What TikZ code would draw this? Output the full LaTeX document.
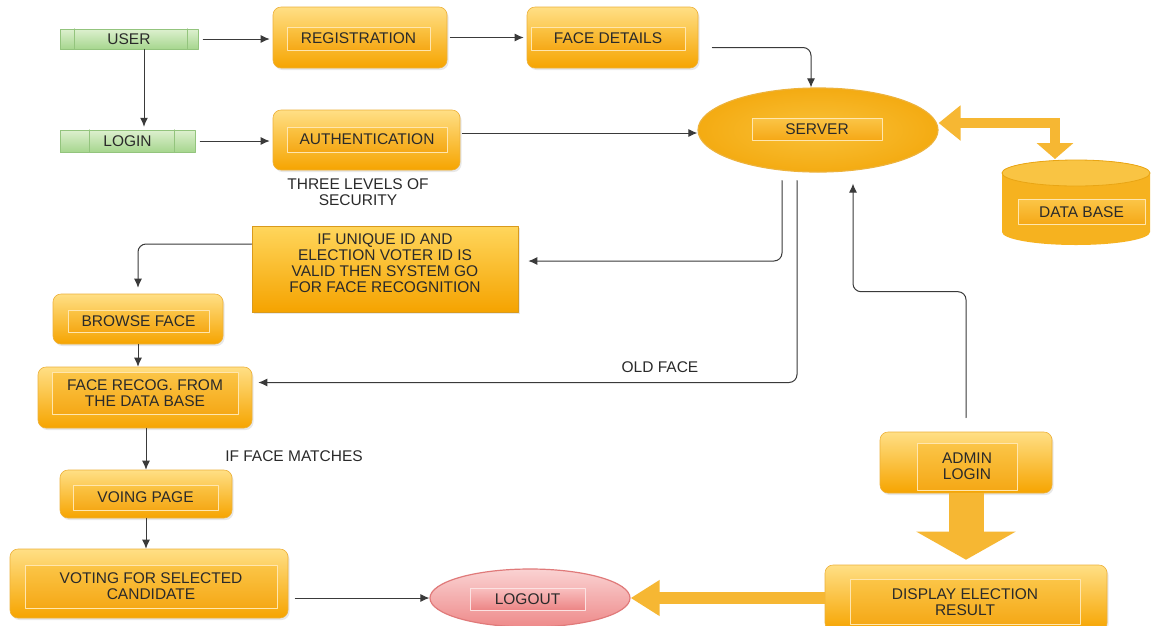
\documentclass[tikz,border=0pt]{standalone}
\usepackage{fontspec}
\setmainfont{Liberation Sans}
\usetikzlibrary{arrows.meta,shapes.geometric,shadows}
\providecommand{\BoxHue}{F6A400}
\providecommand{\GlowHue}{FFDF85}
\providecommand{\LeafHue}{A6D68E}
\newcommand{\Unit}{1pt}
\newcommand{\Wire}{1pt}
\newcommand{\Label}{\fontsize{15.5}{16}\selectfont}
\definecolor{boxbot}{HTML}{\BoxHue}
\definecolor{boxtop}{HTML}{\GlowHue}
\definecolor{boxedge}{HTML}{EDB13A}
\definecolor{striptop}{HTML}{FBC547}
\definecolor{stripbot}{HTML}{F5A816}
\definecolor{stripedge}{HTML}{FFE6AE}
\definecolor{bartop}{HTML}{DDF0CF}
\definecolor{barbot}{HTML}{\LeafHue}
\definecolor{baredge}{HTML}{93C47D}
\definecolor{pinktop}{HTML}{FAD2D2}
\definecolor{pinkbot}{HTML}{EE8A8A}
\definecolor{pinkedge}{HTML}{E07A7A}
\definecolor{pinkstriptop}{HTML}{F9C0C0}
\definecolor{pinkstripbot}{HTML}{EC8585}
\definecolor{pinkstripedge}{HTML}{FBE2E2}
\definecolor{srvin}{HTML}{F9C139}
\definecolor{srvout}{HTML}{F4AB12}
\definecolor{srvedge}{HTML}{EDB23A}
\definecolor{notetop}{HTML}{FFD65C}
\definecolor{notebot}{HTML}{F5A300}
\definecolor{noteedge}{HTML}{D99A1C}
\definecolor{fat}{HTML}{F6B733}
\definecolor{dbbody}{HTML}{F6B21F}
\definecolor{dbtopc}{HTML}{F9C443}
\definecolor{dbedge}{HTML}{E9A514}
\definecolor{wire}{HTML}{3A3A3A}
\definecolor{ink}{HTML}{2A2A2A}

\begin{document}
\begin{tikzpicture}[x=\Unit,y=-\Unit, line join=round, line cap=round, font=\Label, text=ink,
  box/.style={rounded corners=8pt, top color=boxtop, bottom color=boxbot, draw=boxedge,
    line width=0.6pt, inner sep=0pt,
    drop shadow={opacity=0.18, shadow xshift=1.5pt, shadow yshift=-2pt}},
  strip/.style={top color=striptop, bottom color=stripbot, draw=stripedge, line width=1pt,
    inner sep=0pt, align=center},
  bar/.style={top color=bartop, bottom color=barbot, draw=baredge, line width=0.5pt, inner sep=0pt},
  note/.style={align=center, inner sep=0pt},
  link/.style={draw=wire, line width=\Wire, rounded corners=8pt, -{Latex[length=9pt,width=8pt]}},
  fatlink/.style={draw=fat, line cap=butt, line join=miter}]

  \fill[white] (0,0) rectangle (1152,625);
  \useasboundingbox (0,0) rectangle (1152,625);

  % ---- user side ----------------------------------------------------------
  \node[bar, minimum width=138pt, minimum height=20pt] (user) at (129,39) {USER};
  \node[bar, minimum width=135pt, minimum height=22pt] (login) at (127.5,141) {LOGIN};
  \foreach \nd/\dx in {user/15, user/128, login/30, login/115}
    \draw[baredge, line width=0.8pt] ([xshift=\dx pt]\nd.north west) -- ([xshift=\dx pt]\nd.south west);

  \node[box, minimum width=174pt, minimum height=61pt] (reg) at (360,37.5) {};
  \node[strip, minimum width=143pt, minimum height=23pt] (reg-t) at (358.5,38.5) {REGISTRATION};
  \node[box, minimum width=171pt, minimum height=61pt] (face) at (612.5,37.5) {};
  \node[strip, minimum width=154pt, minimum height=23pt] (face-t) at (608,38.5) {FACE DETAILS};
  \node[box, minimum width=187pt, minimum height=60pt] (auth) at (366.5,140) {};
  \node[strip, minimum width=160pt, minimum height=25pt] (auth-t) at (367,139.5) {AUTHENTICATION};
  \node[note] (three) at (358,192) {THREE LEVELS OF\\SECURITY};

  % ---- server and data base ----------------------------------------------
  \node[ellipse, minimum width=240pt, minimum height=84pt, inner color=srvin, outer color=srvout,
    draw=srvedge, line width=1.2pt, inner sep=0pt] (server) at (818,130) {};
  \node[strip, minimum width=130pt, minimum height=22pt] (server-t) at (817,129) {SERVER};

  \fill[dbbody] (1002,173) -- (1002,232) arc[start angle=180, end angle=0, x radius=74, y radius=13]
    -- (1150,173) arc[start angle=0, end angle=-180, x radius=74, y radius=13] -- cycle;
  \draw[fill=dbtopc, draw=dbedge, line width=0.8pt] (1076,173) ellipse [x radius=74, y radius=13];
  \node[strip, minimum width=127pt, minimum height=25pt] (db) at (1081.5,212) {DATA BASE};
  \coordinate (dbtop) at (1055,159);

  % ---- voter side ---------------------------------------------------------
  \node[rectangle, minimum width=266pt, minimum height=86pt, top color=notetop, bottom color=notebot,
    draw=noteedge, line width=0.6pt,
    drop shadow={opacity=0.18, shadow xshift=1.5pt, shadow yshift=-2pt}] (unique) at (385,269) {};
  \node[note] (unique-t) at (385,263) {IF UNIQUE ID AND\\ELECTION VOTER ID IS\\VALID THEN SYSTEM GO\\FOR FACE RECOGNITION};

  \node[box, minimum width=170pt, minimum height=50pt] (browse) at (138,319) {};
  \node[strip, minimum width=141pt, minimum height=22pt] (browse-t) at (138.5,321) {BROWSE FACE};
  \node[box, minimum width=214pt, minimum height=61pt] (recog) at (145,397.5) {};
  \node[strip, minimum width=186pt, minimum height=42pt] (recog-t) at (145,393) {FACE RECOG. FROM\\THE DATA BASE};
  \node[note] (matches) at (294,456) {IF FACE MATCHES};
  \node[box, minimum width=172pt, minimum height=48pt] (voing) at (146,494) {};
  \node[strip, minimum width=145pt, minimum height=25pt] (voing-t) at (145.5,497.5) {VOING PAGE};
  \node[box, minimum width=278pt, minimum height=69pt] (voting) at (149,583.5) {};
  \node[strip, minimum width=252pt, minimum height=43pt] (voting-t) at (151,586.5) {VOTING FOR SELECTED\\CANDIDATE};

  \node[ellipse, minimum width=200pt, minimum height=58pt, top color=pinktop, bottom color=pinkbot,
    draw=pinkedge, line width=1.2pt, inner sep=0pt] (logout) at (530,598) {};
  \node[strip, minimum width=115pt, minimum height=22pt, top color=pinkstriptop, bottom color=pinkstripbot,
    draw=pinkstripedge] (logout-t) at (527.5,599) {LOGOUT};

  % ---- admin side ---------------------------------------------------------
  \node[box, minimum width=172pt, minimum height=61pt] (admin) at (966,462.5) {};
  \node[strip, minimum width=100pt, minimum height=47pt] (admin-t) at (967,466.5) {ADMIN\\LOGIN};
  \node[box, minimum width=282pt, minimum height=66pt] (display) at (966,598) {};
  \node[strip, minimum width=230pt, minimum height=45pt] (display-t) at (965,602) {DISPLAY ELECTION\\RESULT};

  % ---- thin connectors ----------------------------------------------------
  \draw[link, shorten <=5pt, shorten >=3pt] (user.east) -- (user.east -| reg.west);
  \draw[link, shorten <=3pt, shorten >=3pt] (reg.east) -- (reg.east -| face.west);
  \draw[link, shorten <=14pt] ([yshift=-10pt]face.east) -| ([xshift=-7pt]server.north);
  \draw[link, shorten >=3pt] ([xshift=15pt]user.south) -- ([xshift=15pt]user.south |- login.north);
  \draw[link, shorten <=5pt, shorten >=3pt] (login.east) -- (login.east -| auth.west);
  \draw[link, shorten <=2pt] ([yshift=7pt]auth.east) -- ([yshift=7pt]auth.east -| server.west);
  \draw[link, shorten <=8pt, shorten >=10pt] ([xshift=-36pt]server.south) |- ([yshift=8pt]unique.east);
  \draw[link, shorten >=6pt] ([yshift=25pt]unique.west) -| (browse.north);
  \draw[link] (browse.south) -- (browse.south |- recog.north);
  \draw[link, shorten <=8pt, shorten >=6pt] ([xshift=-21pt]server.south) |- ([yshift=15pt]recog.east);
  \node[note] (oldface) at (660,367) {OLD FACE};
  \draw[link] (voing.north |- recog.south) -- (voing.north);
  \draw[link] (voing.south) -- (voing.south |- voting.north);
  \draw[link, shorten <=7pt] (voting.east |- logout.west) -- (logout.west);
  \draw[link, shorten <=14pt, shorten >=11pt] (admin.north) -- ++(0,-140) -| ([xshift=35pt]server.south);

  % ---- fat arrows ---------------------------------------------------------
  \draw[fatlink, line width=10pt, {Triangle[length=22pt,width=34pt]}-{Triangle[length=16pt,width=36pt]}]
    ([yshift=7pt]server.east) -| (dbtop);
  \draw[fatlink, line width=35pt, -{Triangle[length=28pt,width=98pt]}] (admin.south) -- ([yshift=5pt]display.north);
  \draw[fatlink, line width=12pt, -{Triangle[length=29pt,width=34pt]}] (display.west) -- (logout.east);

\end{tikzpicture}
\end{document}
